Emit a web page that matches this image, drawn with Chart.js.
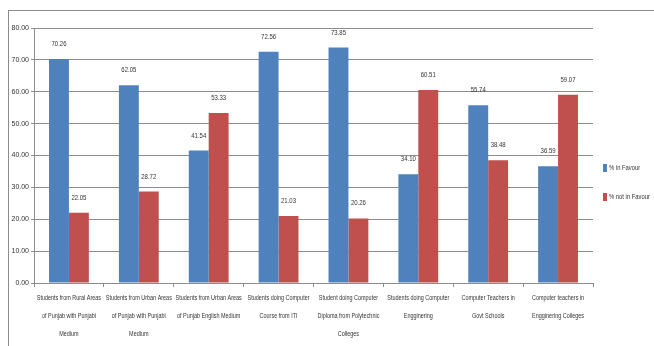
<!DOCTYPE html>
<html>
<head>
<meta charset="utf-8">
<script src="https://cdn.jsdelivr.net/npm/chart.js@4.4.1/dist/chart.umd.min.js"></script>
<style>
  html, body { margin: 0; padding: 0; background: #fff; overflow: hidden; }
  .wrap { position: relative; width: 654px; height: 346px; }
  .frame { position: absolute; left: 8px; top: 10px; width: 700px; height: 400px;
           border-top: 1px solid #8c8c8c; border-left: 1px solid #8c8c8c; }
  canvas { position: absolute; left: 0; top: 0; }
</style>
</head>
<body>
<div class="wrap">
  <div class="frame"></div>
  <canvas id="chart" width="654" height="346"></canvas>
</div>
<script>
const categories = [
  ['Students from Rural Areas', 'of Punjab with Punjabi', 'Medium'],
  ['Students from Urban Areas', 'of Punjab with Punjabi', 'Medium'],
  ['Students from Urban Areas', 'of Punjab English Medium'],
  ['Students doing Computer', 'Course from ITI'],
  ['Student doing Computer', 'Diploma from Polytechnic', 'Colleges'],
  ['Students doing Computer', 'Engginering'],
  ['Computer Teachers in', 'Govt Schools'],
  ['Computer teachers in', 'Engginering Colleges']
];
const inFavour = [70.26, 62.05, 41.54, 72.56, 73.85, 34.10, 55.74, 36.59];
const notInFavour = [22.05, 28.72, 53.33, 21.03, 20.26, 60.51, 38.48, 59.07];
const seriesNames = ['% in Favour', '% not in Favour'];

const FONT = '"Liberation Sans", Arial, sans-serif';
const TEXT = '#333';

// the original uses a very condensed font, so squeeze text horizontally
function narrowText(ctx, text, x, y, sx) {
  ctx.save();
  ctx.translate(x, y);
  ctx.scale(sx, 1);
  ctx.fillText(text, 0, 0);
  ctx.restore();
}

// value labels above each bar
const valueLabels = {
  id: 'valueLabels',
  afterDatasetsDraw(chart) {
    const ctx = chart.ctx;
    ctx.save();
    ctx.font = '7.5px ' + FONT;
    ctx.fillStyle = TEXT;
    ctx.textAlign = 'center';
    ctx.textBaseline = 'middle';
    chart.data.datasets.forEach((ds, i) => {
      chart.getDatasetMeta(i).data.forEach((bar, j) => {
        narrowText(ctx, ds.data[j].toFixed(2), bar.x, bar.y - 15, 0.8);
      });
    });
    ctx.restore();
  }
};

// category labels under the x axis (multi-line, condensed)
const categoryLabels = {
  id: 'categoryLabels',
  afterDraw(chart) {
    const ctx = chart.ctx;
    const xs = chart.scales.x;
    ctx.save();
    ctx.font = '7px ' + FONT;
    ctx.fillStyle = TEXT;
    ctx.textAlign = 'center';
    ctx.textBaseline = 'middle';
    chart.data.labels.forEach((lines, i) => {
      const x = xs.getPixelForTick(i);
      lines.forEach((line, k) => {
        narrowText(ctx, line, x, xs.top + 15 + k * 18, 0.78);
      });
    });
    ctx.restore();
  }
};

// legend on the right, like the Excel original
const sideLegend = {
  id: 'sideLegend',
  afterDraw(chart) {
    const ctx = chart.ctx;
    const ys = [168, 197];
    ctx.save();
    ctx.font = '7.5px ' + FONT;
    ctx.textBaseline = 'middle';
    chart.data.datasets.forEach((ds, i) => {
      ctx.fillStyle = ds.backgroundColor;
      ctx.fillRect(603, ys[i] - 4, 4, 8);
      ctx.fillStyle = TEXT;
      narrowText(ctx, ds.label, 609, ys[i], 0.78);
    });
    ctx.restore();
  }
};

new Chart(document.getElementById('chart'), {
  type: 'bar',
  data: {
    labels: categories,
    datasets: [
      { label: seriesNames[0], data: inFavour, backgroundColor: '#4f81bd' },
      { label: seriesNames[1], data: notInFavour, backgroundColor: '#c0504d' }
    ]
  },
  options: {
    responsive: false,
    animation: false,
    layout: { padding: { left: 0, right: 61, top: 28, bottom: 0 } },
    datasets: { bar: { categoryPercentage: 0.57, barPercentage: 1.0 } },
    plugins: { legend: { display: false }, tooltip: { enabled: false } },
    scales: {
      x: {
        grid: { display: true, drawOnChartArea: false, tickLength: 4, color: '#8c8c8c', offset: true },
        border: { color: '#8c8c8c' },
        ticks: { display: false, autoSkip: false },
        afterFit(scale) { scale.height = 63; }
      },
      y: {
        min: 0, max: 80,
        grid: { color: '#8c8c8c', tickLength: 3 },
        border: { color: '#8c8c8c' },
        ticks: {
          stepSize: 10, color: TEXT, padding: 2,
          font: { family: FONT, size: 7 },
          callback: v => v.toFixed(2)
        },
        afterFit(scale) { scale.width = 34; }
      }
    }
  },
  plugins: [valueLabels, categoryLabels, sideLegend]
});
</script>
</body>
</html>
